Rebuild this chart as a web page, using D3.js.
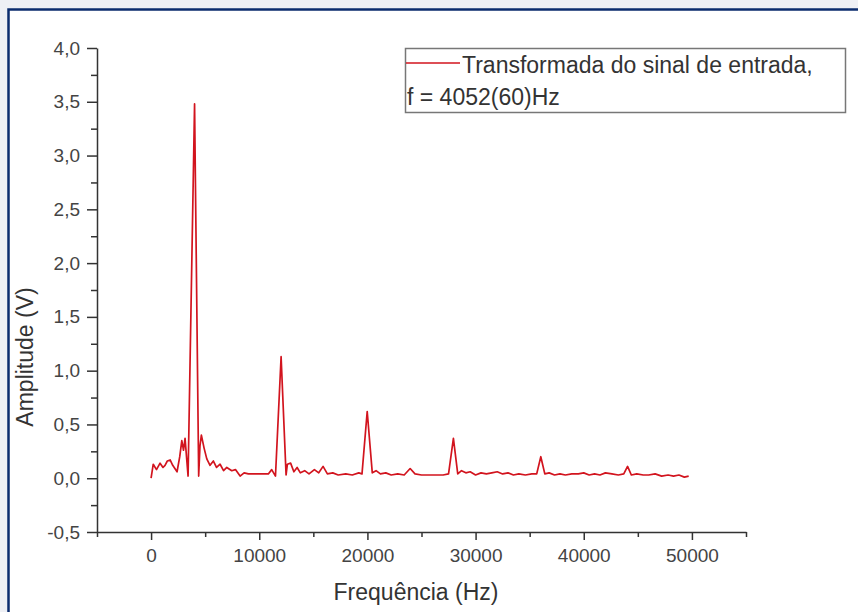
<!DOCTYPE html>
<html>
<head>
<meta charset="utf-8">
<script src="https://cdn.jsdelivr.net/npm/d3@7"></script>
<style>
  body { margin: 0; background: #eef0f5; }
  svg { display: block; font-family: "Liberation Sans", Arial, sans-serif; }
</style>
</head>
<body>
<div id="container"></div>
<script>
/* CONSTANTS AND GLOBALS */
const width = 858,
  height = 612,
  margin = { top: 48, bottom: 80, left: 97, right: 112 };

// spectrum (Hz, V)
const freqHz = [0, 200, 500, 830, 1100, 1290, 1500, 1760, 2000, 2400, 2650, 2840, 3000, 3140, 3420,
  4020, 4400, 4520, 4650, 4900, 5150, 5450, 5760, 6050, 6380, 6700, 7000, 7460, 7800, 8230, 8600,
  9000, 9500, 10000, 10500, 10840, 11150, 11500, 12020, 12480, 12600, 12900, 13200, 13500, 13800,
  14200, 14600, 15100, 15500, 15900, 16300, 16800, 17300, 18000, 18600, 19200, 19500, 19980, 20450,
  20800, 21200, 21700, 22200, 22800, 23400, 23950, 24400, 25000, 25800, 26500, 27000, 27500, 27950,
  28350, 28700, 29100, 29500, 30000, 30500, 31000, 31500, 32000, 32500, 33000, 33500, 34000, 34600,
  35200, 35650, 36030, 36400, 36800, 37300, 37800, 38300, 38900, 39500, 40000, 40500, 41000, 41500,
  42000, 42600, 43200, 43700, 44050, 44400, 44900, 45500, 46000, 46600, 47200, 47800, 48300, 48800,
  49300, 49700];
const ampV = [0.00, 0.13, 0.08, 0.14, 0.10, 0.12, 0.16, 0.17, 0.12, 0.06, 0.20, 0.35, 0.26, 0.37, 0.02,
  3.48, 0.02, 0.30, 0.40, 0.28, 0.18, 0.12, 0.16, 0.10, 0.13, 0.07, 0.10, 0.07, 0.08, 0.02, 0.05,
  0.04, 0.04, 0.04, 0.04, 0.04, 0.08, 0.02, 1.13, 0.03, 0.13, 0.14, 0.06, 0.10, 0.05,
  0.07, 0.04, 0.08, 0.05, 0.11, 0.04, 0.05, 0.03, 0.04, 0.03, 0.05, 0.04, 0.62, 0.05,
  0.07, 0.04, 0.05, 0.03, 0.04, 0.03, 0.09, 0.04, 0.03, 0.03, 0.03, 0.03, 0.04, 0.37,
  0.04, 0.07, 0.05, 0.06, 0.03, 0.05, 0.04, 0.05, 0.06, 0.04, 0.05, 0.03, 0.04, 0.03,
  0.04, 0.04, 0.20, 0.04, 0.05, 0.03, 0.04, 0.03, 0.04, 0.04, 0.05, 0.03, 0.04, 0.03,
  0.05, 0.04, 0.03, 0.04, 0.11, 0.03, 0.04, 0.03, 0.03, 0.04, 0.02, 0.03, 0.02, 0.03,
  0.01, 0.02];

const xMajor = [0, 10000, 20000, 30000, 40000, 50000];
const xMinor = [-5000, 5000, 15000, 25000, 35000, 45000, 55000];
const yMajor = [-0.5, 0, 0.5, 1, 1.5, 2, 2.5, 3, 3.5, 4];
const yMinor = [-0.25, 0.25, 0.75, 1.25, 1.75, 2.25, 2.75, 3.25, 3.75];

const seriesName = "Transformada do sinal de entrada,";
const seriesNote = "f = 4052(60)Hz";

const data = freqHz.map((f, i) => ({ f: f, a: ampV[i] }));

/* SCALES */
const xScale = d3.scaleLinear()
  .domain([-5000, 55000])
  .range([margin.left, width - margin.right]);

const yScale = d3.scaleLinear()
  .domain([-0.5, 4.0])
  .range([height - margin.bottom, margin.top]);

/* HTML ELEMENTS */
const svg = d3.select("#container")
  .append("svg")
  .attr("width", width)
  .attr("height", height);

// white page with blue frame (only left/top edges visible)
svg.append("rect")
  .attr("x", 8.5).attr("y", 9.5)
  .attr("width", width + 20).attr("height", height + 20)
  .attr("fill", "white")
  .attr("stroke", "#0b2c6e")
  .attr("stroke-width", 2.5);

// axes
const xAxisG = svg.append("g")
  .attr("transform", `translate(0,${height - margin.bottom})`)
  .call(d3.axisBottom(xScale).tickValues(xMajor).tickFormat(d => String(d))
    .tickSizeInner(8).tickSizeOuter(0).tickPadding(9));

svg.append("g")
  .attr("transform", `translate(0,${height - margin.bottom})`)
  .call(d3.axisBottom(xScale).tickValues(xMinor).tickFormat("").tickSizeInner(5).tickSizeOuter(0))
  .call(g => g.select(".domain").remove());

const yAxisG = svg.append("g")
  .attr("transform", `translate(${margin.left},0)`)
  .call(d3.axisLeft(yScale).tickValues(yMajor).tickFormat(d => d.toFixed(1).replace(".", ","))
    .tickSizeInner(10).tickSizeOuter(0).tickPadding(7));

svg.append("g")
  .attr("transform", `translate(${margin.left},0)`)
  .call(d3.axisLeft(yScale).tickValues(yMinor).tickFormat("").tickSizeInner(6).tickSizeOuter(0))
  .call(g => g.select(".domain").remove());

svg.selectAll(".domain, .tick line")
  .attr("stroke", "#333")
  .attr("stroke-width", 1.5);

svg.selectAll(".tick text")
  .attr("fill", "#444")
  .style("font-size", "19px");

// line
const line = d3.line()
  .x(d => xScale(d.f))
  .y(d => yScale(d.a));

svg.append("path")
  .datum(data)
  .attr("d", line)
  .attr("fill", "none")
  .attr("stroke", "#d2141e")
  .attr("stroke-width", 1.7)
  .attr("stroke-linejoin", "round");

// axis labels
svg.append("text")
  .attr("transform", "translate(33,357) rotate(-90)")
  .style("text-anchor", "middle")
  .style("font-size", "23px")
  .attr("fill", "#333")
  .text("Amplitude (V)");

svg.append("text")
  .attr("x", 416)
  .attr("y", 600)
  .style("text-anchor", "middle")
  .style("font-size", "23px")
  .attr("fill", "#333")
  .text("Frequência (Hz)");

// legend
const legend = svg.append("g");
legend.append("rect")
  .attr("x", 405.5).attr("y", 48.5)
  .attr("width", 440).attr("height", 64)
  .attr("fill", "white")
  .attr("stroke", "#777")
  .attr("stroke-width", 1.5);

legend.append("line")
  .attr("x1", 406).attr("x2", 460)
  .attr("y1", 63).attr("y2", 63)
  .attr("stroke", "#d2141e")
  .attr("stroke-width", 1.7);

legend.append("text")
  .attr("x", 462).attr("y", 73)
  .style("font-size", "23px")
  .attr("fill", "#333")
  .text(seriesName);

legend.append("text")
  .attr("x", 407).attr("y", 105)
  .style("font-size", "23px")
  .attr("fill", "#333")
  .text(seriesNote);
</script>
</body>
</html>
